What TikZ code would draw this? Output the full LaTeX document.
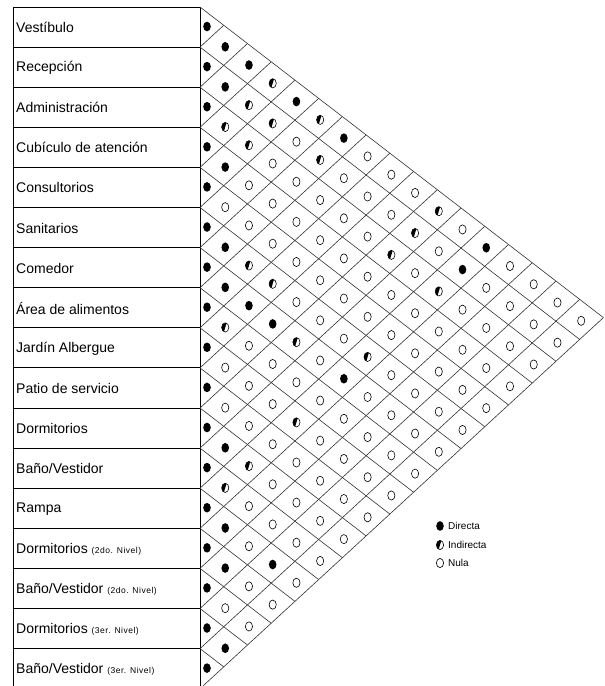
\documentclass[tikz,border=0pt]{standalone}
\usepackage{fontspec}
\setmainfont{Liberation Sans}
\newcommand{\niv}[1]{{\fontsize{8.5}{9}\selectfont\addfontfeature{LetterSpace=6}#1}}
\begin{document}
\begin{tikzpicture}[x=1pt,y=-1pt,
  frame/.style={line width=0.9pt,black},
  gridline/.style={line width=0.6pt,black!80},
  lbl/.style={anchor=west,inner sep=0pt,font=\fontsize{14}{15}\selectfont},
  leg/.style={anchor=west,inner sep=0pt,font=\fontsize{10}{11}\selectfont},
  symD/.pic={\fill[black] (0,0) ellipse[x radius=3.8,y radius=4.8];},
  symN/.pic={\draw[line width=0.6pt] (0,0) ellipse[x radius=3.6,y radius=4.6];},
  symI/.pic={\begin{scope}\clip (1.8,-6) -- (-1.8,6) -- (-6,6) -- (-6,-6) -- cycle;
      \fill (0,0) ellipse[x radius=3.6,y radius=4.6];\end{scope}
      \draw[line width=0.6pt] (0,0) ellipse[x radius=3.6,y radius=4.6];}
]
\useasboundingbox (0,0) rectangle (605,686);
\fill[white] (0,0) rectangle (605,686);

% label column
\foreach \k in {0,...,17}{
  \draw[frame] (13,{7+40.1*\k}) -- (200,{7+40.1*\k});
}
\draw[frame] (13,7) -- (13,692);
\draw[frame] (200,7) -- (200,692);

% diamond grid
\foreach \k in {0,...,17}{
  \pgfmathsetmacro\yk{7+40.1*\k}
  \pgfmathsetmacro\dn{17-\k}
  \draw[gridline] (200,\yk) -- ++({23.73*\dn},{18.27*\dn});
  \draw[gridline] (200,\yk) -- ++({23.73*\k},{-21.83*\k});
}

% row labels
\foreach \t [count=\i from 0] in {{Vestíbulo},{Recepción},{Administración},{Cubículo de atención},{Consultorios},{Sanitarios},{Comedor},{Área de alimentos},{Jardín Albergue},{Patio de servicio},{Dormitorios},{Baño/Vestidor},{Rampa},{Dormitorios \niv{(2do. Nivel)}},{Baño/Vestidor \niv{(2do. Nivel)}},{Dormitorios \niv{(3er. Nivel)}},{Baño/Vestidor \niv{(3er. Nivel)}}}{
  \node[lbl] (row\i) at (16,{27.5+40.1*\i}) {\t};
}

% relation symbols
\foreach \rowlist [count=\a from 0] in {
 {D,D,D,I,D,I,D,N,N,N,I,N,D,N,N,N,N},
 {D,D,I,I,N,I,N,N,N,I,N,D,N,N,N,N},
 {D,I,I,N,N,N,N,N,I,N,I,N,N,N,N},
 {D,D,N,N,N,N,N,N,N,N,N,N,N,N},
 {D,N,N,N,N,N,N,N,N,N,N,N,N},
 {D,D,I,I,N,N,N,I,N,N,N,N},
 {D,D,D,D,I,N,D,N,N,N,N},
 {D,I,N,N,N,N,N,N,N,N},
 {D,N,N,N,I,N,N,N,N},
 {D,N,N,N,N,N,N,N},
 {D,D,I,N,N,N,N},
 {D,I,N,N,N,N},
 {D,D,N,D,N},
 {D,D,N,N},
 {D,N,N},
 {D,D},
 {D}}{
  \foreach \s [count=\k from 0] in \rowlist {
    \pgfmathsetmacro\px{\k==0 ? 207 : 201.5+23.73*\k}
    \pgfmathsetmacro\py{\k==0 ? 26.5+40.1*\a : 28.5+40.1*\a+18.27*\k}
    \if D\s \pic at (\px,\py) {symD};\fi
    \if I\s \pic at (\px,\py) {symI};\fi
    \if N\s \pic at (\px,\py) {symN};\fi
  }
}

% legend
\pic at (440,526) {symD};
\node[leg] (legD) at (448,526) {Directa};
\pic at (440,545) {symI};
\node[leg] (legI) at (448,545) {Indirecta};
\pic at (440,563) {symN};
\node[leg] (legN) at (448,563) {Nula};
\end{tikzpicture}
\end{document}
